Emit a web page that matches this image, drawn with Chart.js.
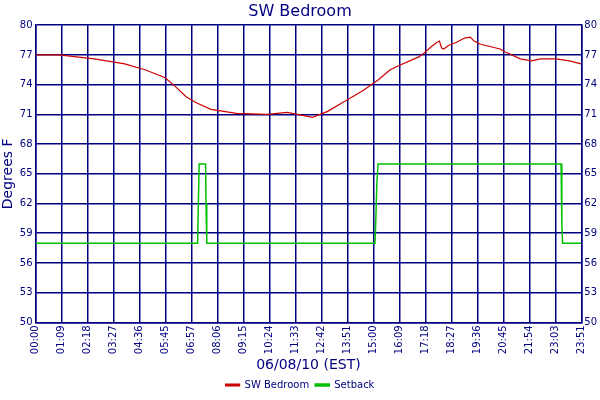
<!DOCTYPE html>
<html>
<head>
<script src="https://cdn.jsdelivr.net/npm/chart.js@4"></script>
<style>body{margin:0;background:#fff}#wrap{width:600px;height:400px}</style>
</head>
<body>
<div id="wrap"><canvas id="c"></canvas></div>
<script>
// minutes since midnight
const xLabels = ['00:00','01:09','02:18','03:27','04:36','05:45','06:57','08:06','09:15','10:24','11:33','12:42','13:51','15:00','16:09','17:18','18:27','19:36','20:45','21:54','23:03','23:51'];
const tempTimes = [0,61,154,234,287,340,367,394,420,460,527,607,660,700,726,766,819,859,899,930,952,1005,1019,1040,1050,1059,1065,1070,1085,1100,1125,1140,1150,1165,1218,1232,1271,1300,1324,1364,1400,1431];
const tempVals  = [77.0,77.0,76.6,76.1,75.5,74.7,73.8,72.8,72.2,71.5,71.1,71.0,71.2,70.9,70.7,71.3,72.5,73.4,74.5,75.5,75.9,76.8,77.2,77.9,78.2,78.4,77.7,77.6,78.0,78.2,78.7,78.8,78.4,78.1,77.6,77.3,76.6,76.4,76.6,76.6,76.4,76.1];
const setTimes = [0,425,427,429,446,447,449,890,892,895,898,1378,1380,1382,1431];
const setVals  = [58,58,62,66,66,62,58,58,60,64,66,66,60,58,58];
const yTicks = [50,53,56,59,62,65,68,71,74,77,80];
const xMax = 1431;

const navy = '#000080';
const font = {family:'DejaVu Sans', size:10};

function yAxis(pos){
  return {
    position: pos, min:50, max:80,
    afterBuildTicks: a => { a.ticks = yTicks.map(v => ({value:v})); },
    ticks:{color:navy, font:font, padding:3},
    grid:{color:navy, lineWidth:1.5, drawTicks:false, display: pos==='left'},
    border:{color:navy, width:1.5},
    title:{display: pos==='left', text:'Degrees F', color:navy, font:{family:'DejaVu Sans', size:14}, padding:0}
  };
}

new Chart(document.getElementById('c'), {
  type:'line',
  data:{
    datasets:[
      {label:'SW Bedroom', data: tempTimes.map((t,i)=>({x:t,y:tempVals[i]})), borderColor:'#cc0000', backgroundColor:'#cc0000', borderWidth:1.2, pointRadius:0, tension:0},
      {label:'Setback', data: setTimes.map((t,i)=>({x:t,y:setVals[i]})), borderColor:'#00c000', backgroundColor:'#00c000', borderWidth:1.5, pointRadius:0, tension:0}
    ]
  },
  options:{
    responsive:true, maintainAspectRatio:false, animation:false,
    layout:{padding:{left:0,right:0,top:0,bottom:0}},
    scales:{
      x:{
        type:'linear', min:0, max:xMax,
        afterBuildTicks: a => { a.ticks = xLabels.map((l,i)=>({value: i*xMax/(xLabels.length-1)})); },
        ticks:{color:navy, font:font, maxRotation:90, minRotation:90, autoSkip:false, padding:3,
          callback:(v,i)=> xLabels[i]},
        grid:{color:navy, lineWidth:1.5, drawTicks:false},
        border:{color:navy, width:1.5},
        title:{display:true, text:'06/08/10 (EST)', color:navy, font:{family:'DejaVu Sans', size:14}, padding:{top:0,bottom:0}}
      },
      y: yAxis('left'),
      y2: yAxis('right')
    },
    plugins:{
      title:{display:true, text:'SW Bedroom', color:navy, font:{family:'DejaVu Sans', size:16, weight:'normal'}, padding:{top:2,bottom:4}},
      legend:{position:'bottom', labels:{color:navy, font:font, boxWidth:14, boxHeight:2, padding:6}},
      tooltip:{enabled:false}
    }
  }
});
</script>
</body>
</html>
